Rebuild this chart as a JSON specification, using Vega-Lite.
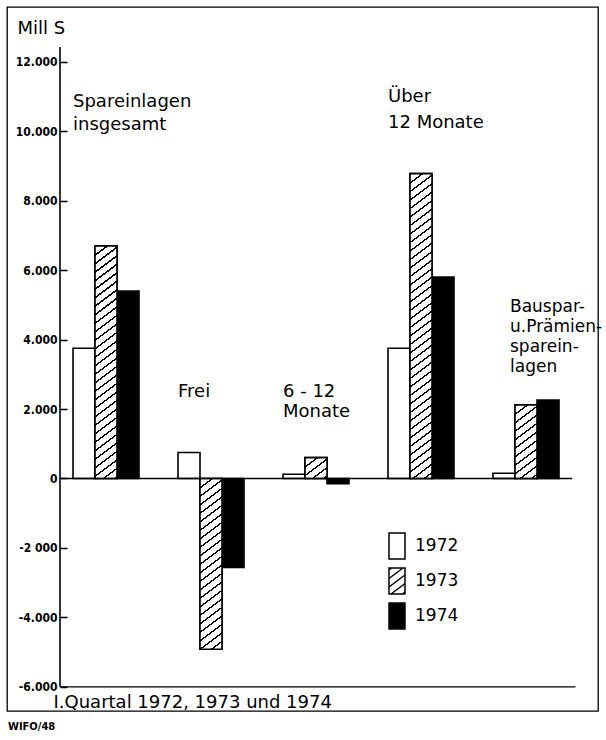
{
  "$schema": "https://vega.github.io/schema/vega-lite/v6.json",
  "width": 591,
  "height": 704,
  "autosize": "none",
  "padding": {"left": 7, "top": 7, "right": 8, "bottom": 29},
  "background": "white",
  "view": {"stroke": "black", "strokeWidth": 1.3},
  "config": {"font": "DejaVu Sans", "text": {"color": "black"}},
  "title": {"text": "WIFO/48", "orient": "bottom", "anchor": "start", "frame": "group", "offset": 19, "dx": 1, "fontSize": 11, "font": "DejaVu Sans Condensed", "fontWeight": "bold", "color": "black", "baseline": "alphabetic"},
  "datasets": {
    "bars": [
      {"group": "Spareinlagen insgesamt", "year": "1972", "value": 3750},
      {"group": "Spareinlagen insgesamt", "year": "1973", "value": 6700},
      {"group": "Spareinlagen insgesamt", "year": "1974", "value": 5400},
      {"group": "Frei", "year": "1972", "value": 750},
      {"group": "Frei", "year": "1973", "value": -4920},
      {"group": "Frei", "year": "1974", "value": -2560},
      {"group": "6 - 12 Monate", "year": "1972", "value": 120},
      {"group": "6 - 12 Monate", "year": "1973", "value": 600},
      {"group": "6 - 12 Monate", "year": "1974", "value": -150},
      {"group": "Über 12 Monate", "year": "1972", "value": 3750},
      {"group": "Über 12 Monate", "year": "1973", "value": 8780},
      {"group": "Über 12 Monate", "year": "1974", "value": 5800},
      {"group": "Bauspar- u. Prämienspareinlagen", "year": "1972", "value": 150},
      {"group": "Bauspar- u. Prämienspareinlagen", "year": "1973", "value": 2120},
      {"group": "Bauspar- u. Prämienspareinlagen", "year": "1974", "value": 2260}
    ],
    "labels": [
      {"group": "Spareinlagen insgesamt", "pos": 10700, "text": "Spareinlagen"},
      {"group": "Spareinlagen insgesamt", "pos": 10038, "text": "insgesamt"},
      {"group": "Frei", "pos": 2347, "text": "Frei"},
      {"group": "6 - 12 Monate", "pos": 2347, "text": "6 - 12"},
      {"group": "6 - 12 Monate", "pos": 1771, "text": "Monate"},
      {"group": "Über 12 Monate", "pos": 10844, "text": "Über"},
      {"group": "Über 12 Monate", "pos": 10095, "text": "12 Monate"},
      {"group": "Bauspar- u. Prämienspareinlagen", "pos": 4795, "text": "Bauspar-"},
      {"group": "Bauspar- u. Prämienspareinlagen", "pos": 4219, "text": "u.Prämien-"},
      {"group": "Bauspar- u. Prämienspareinlagen", "pos": 3643, "text": "sparein-"},
      {"group": "Bauspar- u. Prämienspareinlagen", "pos": 3067, "text": "lagen"}
    ]
  },
  "layer": [
    {
      "data": {"name": "bars"},
      "mark": {"type": "bar", "stroke": "black", "strokeWidth": 1.6},
      "encoding": {
        "x": {
          "field": "group", "type": "nominal",
          "scale": {"domain": ["Spareinlagen insgesamt", "Frei", "6 - 12 Monate", "Über 12 Monate", "Bauspar- u. Prämienspareinlagen"], "paddingInner": 0.3714, "paddingOuter": 0.5, "align": 0.6286},
          "axis": {"domain": false, "ticks": false, "labels": false, "grid": false, "title": "I.Quartal 1972, 1973 und 1974", "titleFont": "DejaVu Sans", "titleFontSize": 18, "titleFontWeight": "normal", "titleColor": "black", "titleX": 46, "titleY": -4, "titleAlign": "left", "titleAnchor": "start", "titleBaseline": "alphabetic"}
        },
        "xOffset": {"field": "year", "type": "nominal", "scale": {"domain": ["1972", "1973", "1974"], "paddingInner": 0, "paddingOuter": 0}},
        "y": {
          "field": "value", "type": "quantitative",
          "scale": {"domain": [-6697, 13580], "nice": false, "zero": false},
          "axis": {
            "offset": -53, "domain": false, "grid": false,
            "values": [-6000, -5000, -4000, -3000, -2000, -1000, 0, 1000, 2000, 3000, 4000, 5000, 6000, 7000, 8000, 9000, 10000, 11000, 12000],
            "tickSize": -7, "tickColor": "black", "tickWidth": 1.5,
            "labelPadding": 10, "labelFont": "DejaVu Sans Condensed", "labelFontWeight": "bold", "labelFontSize": 12, "labelColor": "black", "labelOverlap": false, "labelFlush": false, "labelAlign": "right", "labelBaseline": "middle",
            "labelExpr": "datum.value % 2000 !== 0 ? '' : datum.value === 0 ? '0' : datum.value === -2000 ? '-2 000' : (datum.value < 0 ? '-' : '') + replace(format(abs(datum.value), ','), ',', '.')",
            "title": "Mill S", "titleAngle": 0, "titleAlign": "left", "titleBaseline": "alphabetic", "titleX": -43, "titleY": 26, "titleFontSize": 18, "titleFont": "DejaVu Sans", "titleFontWeight": "normal", "titleColor": "black"
          }
        },
        "fill": {"condition": {"test": "datum.year === '1974'", "value": "black"}, "value": "white"}
      }
    },
    {
      "data": {"name": "bars"},
      "mark": {"type": "point", "filled": true, "opacity": 0, "strokeWidth": 1.5},
      "encoding": {
        "x": {"field": "group", "type": "nominal"},
        "y": {"field": "value", "type": "quantitative"},
        "fill": {
          "field": "year", "type": "nominal",
          "scale": {"domain": ["1972", "1973", "1974"], "range": ["white", "white", "black"]},
          "legend": {"orient": "none", "legendX": 376, "legendY": 525, "title": null, "padding": 0, "symbolSize": 676, "symbolStrokeColor": "black", "symbolStrokeWidth": 1.5, "symbolOpacity": 1, "labelFont": "DejaVu Sans", "labelFontSize": 17, "labelColor": "black", "labelOffset": 4, "rowPadding": 3}
        },
        "stroke": {
          "field": "year", "type": "nominal",
          "scale": {"domain": ["1972", "1973", "1974"], "range": ["black", "black", "black"]},
          "legend": {"orient": "none", "legendX": 376, "legendY": 525, "title": null, "padding": 0, "symbolSize": 676, "symbolStrokeColor": "black", "symbolStrokeWidth": 1.5, "symbolOpacity": 1, "labelFont": "DejaVu Sans", "labelFontSize": 17, "labelColor": "black", "labelOffset": 4, "rowPadding": 3}
        },
        "shape": {
          "field": "year", "type": "nominal",
          "scale": {"domain": ["1972", "1973", "1974"], "range": ["M-0.615,-1H0.615V1H-0.615Z", "M-0.615,-1H0.615V1H-0.615Z M-0.615,0.461L0.615,-0.461 M-0.461,1L0.615,0.193 M-0.615,-0.193L0.461,-1 M0.413,1L0.615,0.849 M-0.615,-0.849L-0.413,-1", "M-0.615,-1H0.615V1H-0.615Z"]},
          "legend": {"orient": "none", "legendX": 376, "legendY": 525, "title": null, "padding": 0, "symbolSize": 676, "symbolStrokeColor": "black", "symbolStrokeWidth": 1.5, "symbolOpacity": 1, "labelFont": "DejaVu Sans", "labelFontSize": 17, "labelColor": "black", "labelOffset": 4, "rowPadding": 3}
        }
      }
    },
    {
      "data": {"name": "bars"},
      "transform": [{"filter": "datum.year === '1973' && datum.group === 'Spareinlagen insgesamt'"}],
      "mark": {"type": "bar", "stroke": "black", "strokeWidth": 1.6, "fill": {"gradient": "linear", "x1": 0, "y1": 0, "x2": 0.10317, "y2": 1.4544, "stops": [
        {"offset":0,"color":"#fff"},{"offset":0,"color":"#000"},{"offset":0.0055,"color":"#000"},{"offset":0.0055,"color":"#fff"},
        {"offset":0.025,"color":"#fff"},{"offset":0.025,"color":"#000"},{"offset":0.0305,"color":"#000"},{"offset":0.0305,"color":"#fff"},
        {"offset":0.05,"color":"#fff"},{"offset":0.05,"color":"#000"},{"offset":0.0555,"color":"#000"},{"offset":0.0555,"color":"#fff"},
        {"offset":0.075,"color":"#fff"},{"offset":0.075,"color":"#000"},{"offset":0.0805,"color":"#000"},{"offset":0.0805,"color":"#fff"},
        {"offset":0.1,"color":"#fff"},{"offset":0.1,"color":"#000"},{"offset":0.1055,"color":"#000"},{"offset":0.1055,"color":"#fff"},
        {"offset":0.125,"color":"#fff"},{"offset":0.125,"color":"#000"},{"offset":0.1305,"color":"#000"},{"offset":0.1305,"color":"#fff"},
        {"offset":0.15,"color":"#fff"},{"offset":0.15,"color":"#000"},{"offset":0.1555,"color":"#000"},{"offset":0.1555,"color":"#fff"},
        {"offset":0.175,"color":"#fff"},{"offset":0.175,"color":"#000"},{"offset":0.1805,"color":"#000"},{"offset":0.1805,"color":"#fff"},
        {"offset":0.2,"color":"#fff"},{"offset":0.2,"color":"#000"},{"offset":0.2055,"color":"#000"},{"offset":0.2055,"color":"#fff"},
        {"offset":0.225,"color":"#fff"},{"offset":0.225,"color":"#000"},{"offset":0.2305,"color":"#000"},{"offset":0.2305,"color":"#fff"},
        {"offset":0.25,"color":"#fff"},{"offset":0.25,"color":"#000"},{"offset":0.2555,"color":"#000"},{"offset":0.2555,"color":"#fff"},
        {"offset":0.275,"color":"#fff"},{"offset":0.275,"color":"#000"},{"offset":0.2805,"color":"#000"},{"offset":0.2805,"color":"#fff"},
        {"offset":0.3,"color":"#fff"},{"offset":0.3,"color":"#000"},{"offset":0.3055,"color":"#000"},{"offset":0.3055,"color":"#fff"},
        {"offset":0.325,"color":"#fff"},{"offset":0.325,"color":"#000"},{"offset":0.3305,"color":"#000"},{"offset":0.3305,"color":"#fff"},
        {"offset":0.35,"color":"#fff"},{"offset":0.35,"color":"#000"},{"offset":0.3555,"color":"#000"},{"offset":0.3555,"color":"#fff"},
        {"offset":0.375,"color":"#fff"},{"offset":0.375,"color":"#000"},{"offset":0.3805,"color":"#000"},{"offset":0.3805,"color":"#fff"},
        {"offset":0.4,"color":"#fff"},{"offset":0.4,"color":"#000"},{"offset":0.4055,"color":"#000"},{"offset":0.4055,"color":"#fff"},
        {"offset":0.425,"color":"#fff"},{"offset":0.425,"color":"#000"},{"offset":0.4305,"color":"#000"},{"offset":0.4305,"color":"#fff"},
        {"offset":0.45,"color":"#fff"},{"offset":0.45,"color":"#000"},{"offset":0.4555,"color":"#000"},{"offset":0.4555,"color":"#fff"},
        {"offset":0.475,"color":"#fff"},{"offset":0.475,"color":"#000"},{"offset":0.4805,"color":"#000"},{"offset":0.4805,"color":"#fff"},
        {"offset":0.5,"color":"#fff"},{"offset":0.5,"color":"#000"},{"offset":0.5055,"color":"#000"},{"offset":0.5055,"color":"#fff"},
        {"offset":0.525,"color":"#fff"},{"offset":0.525,"color":"#000"},{"offset":0.5305,"color":"#000"},{"offset":0.5305,"color":"#fff"},
        {"offset":0.55,"color":"#fff"},{"offset":0.55,"color":"#000"},{"offset":0.5555,"color":"#000"},{"offset":0.5555,"color":"#fff"},
        {"offset":0.575,"color":"#fff"},{"offset":0.575,"color":"#000"},{"offset":0.5805,"color":"#000"},{"offset":0.5805,"color":"#fff"},
        {"offset":0.6,"color":"#fff"},{"offset":0.6,"color":"#000"},{"offset":0.6055,"color":"#000"},{"offset":0.6055,"color":"#fff"},
        {"offset":0.625,"color":"#fff"},{"offset":0.625,"color":"#000"},{"offset":0.6305,"color":"#000"},{"offset":0.6305,"color":"#fff"},
        {"offset":0.65,"color":"#fff"},{"offset":0.65,"color":"#000"},{"offset":0.6555,"color":"#000"},{"offset":0.6555,"color":"#fff"},
        {"offset":0.675,"color":"#fff"},{"offset":0.675,"color":"#000"},{"offset":0.6805,"color":"#000"},{"offset":0.6805,"color":"#fff"},
        {"offset":0.7,"color":"#fff"},{"offset":0.7,"color":"#000"},{"offset":0.7055,"color":"#000"},{"offset":0.7055,"color":"#fff"},
        {"offset":0.725,"color":"#fff"},{"offset":0.725,"color":"#000"},{"offset":0.7305,"color":"#000"},{"offset":0.7305,"color":"#fff"}
      ]}},
      "encoding": {
        "x": {"field": "group", "type": "nominal"},
        "xOffset": {"field": "year", "type": "nominal"},
        "y": {"field": "value", "type": "quantitative"}
      }
    },
    {
      "data": {"name": "bars"},
      "transform": [{"filter": "datum.year === '1973' && datum.group === 'Frei'"}],
      "mark": {"type": "bar", "stroke": "black", "strokeWidth": 1.6, "fill": {"gradient": "linear", "x1": 0, "y1": 0, "x2": 0.19053, "y2": 1.9722, "stops": [
        {"offset":0,"color":"#fff"},{"offset":0,"color":"#000"},{"offset":0.0055,"color":"#000"},{"offset":0.0055,"color":"#fff"},
        {"offset":0.025,"color":"#fff"},{"offset":0.025,"color":"#000"},{"offset":0.0305,"color":"#000"},{"offset":0.0305,"color":"#fff"},
        {"offset":0.05,"color":"#fff"},{"offset":0.05,"color":"#000"},{"offset":0.0555,"color":"#000"},{"offset":0.0555,"color":"#fff"},
        {"offset":0.075,"color":"#fff"},{"offset":0.075,"color":"#000"},{"offset":0.0805,"color":"#000"},{"offset":0.0805,"color":"#fff"},
        {"offset":0.1,"color":"#fff"},{"offset":0.1,"color":"#000"},{"offset":0.1055,"color":"#000"},{"offset":0.1055,"color":"#fff"},
        {"offset":0.125,"color":"#fff"},{"offset":0.125,"color":"#000"},{"offset":0.1305,"color":"#000"},{"offset":0.1305,"color":"#fff"},
        {"offset":0.15,"color":"#fff"},{"offset":0.15,"color":"#000"},{"offset":0.1555,"color":"#000"},{"offset":0.1555,"color":"#fff"},
        {"offset":0.175,"color":"#fff"},{"offset":0.175,"color":"#000"},{"offset":0.1805,"color":"#000"},{"offset":0.1805,"color":"#fff"},
        {"offset":0.2,"color":"#fff"},{"offset":0.2,"color":"#000"},{"offset":0.2055,"color":"#000"},{"offset":0.2055,"color":"#fff"},
        {"offset":0.225,"color":"#fff"},{"offset":0.225,"color":"#000"},{"offset":0.2305,"color":"#000"},{"offset":0.2305,"color":"#fff"},
        {"offset":0.25,"color":"#fff"},{"offset":0.25,"color":"#000"},{"offset":0.2555,"color":"#000"},{"offset":0.2555,"color":"#fff"},
        {"offset":0.275,"color":"#fff"},{"offset":0.275,"color":"#000"},{"offset":0.2805,"color":"#000"},{"offset":0.2805,"color":"#fff"},
        {"offset":0.3,"color":"#fff"},{"offset":0.3,"color":"#000"},{"offset":0.3055,"color":"#000"},{"offset":0.3055,"color":"#fff"},
        {"offset":0.325,"color":"#fff"},{"offset":0.325,"color":"#000"},{"offset":0.3305,"color":"#000"},{"offset":0.3305,"color":"#fff"},
        {"offset":0.35,"color":"#fff"},{"offset":0.35,"color":"#000"},{"offset":0.3555,"color":"#000"},{"offset":0.3555,"color":"#fff"},
        {"offset":0.375,"color":"#fff"},{"offset":0.375,"color":"#000"},{"offset":0.3805,"color":"#000"},{"offset":0.3805,"color":"#fff"},
        {"offset":0.4,"color":"#fff"},{"offset":0.4,"color":"#000"},{"offset":0.4055,"color":"#000"},{"offset":0.4055,"color":"#fff"},
        {"offset":0.425,"color":"#fff"},{"offset":0.425,"color":"#000"},{"offset":0.4305,"color":"#000"},{"offset":0.4305,"color":"#fff"},
        {"offset":0.45,"color":"#fff"},{"offset":0.45,"color":"#000"},{"offset":0.4555,"color":"#000"},{"offset":0.4555,"color":"#fff"},
        {"offset":0.475,"color":"#fff"},{"offset":0.475,"color":"#000"},{"offset":0.4805,"color":"#000"},{"offset":0.4805,"color":"#fff"},
        {"offset":0.5,"color":"#fff"},{"offset":0.5,"color":"#000"},{"offset":0.5055,"color":"#000"},{"offset":0.5055,"color":"#fff"},
        {"offset":0.525,"color":"#fff"},{"offset":0.525,"color":"#000"},{"offset":0.5305,"color":"#000"},{"offset":0.5305,"color":"#fff"},
        {"offset":0.55,"color":"#fff"},{"offset":0.55,"color":"#000"},{"offset":0.5555,"color":"#000"},{"offset":0.5555,"color":"#fff"}
      ]}},
      "encoding": {
        "x": {"field": "group", "type": "nominal"},
        "xOffset": {"field": "year", "type": "nominal"},
        "y": {"field": "value", "type": "quantitative"}
      }
    },
    {
      "data": {"name": "bars"},
      "transform": [{"filter": "datum.year === '1973' && datum.group === '6 - 12 Monate'"}],
      "mark": {"type": "bar", "stroke": "black", "strokeWidth": 1.6, "fill": {"gradient": "linear", "x1": 0, "y1": 0, "x2": 7.959, "y2": 10.033, "stops": [
        {"offset":0,"color":"#fff"},{"offset":0,"color":"#000"},{"offset":0.0055,"color":"#000"},{"offset":0.0055,"color":"#fff"},
        {"offset":0.025,"color":"#fff"},{"offset":0.025,"color":"#000"},{"offset":0.0305,"color":"#000"},{"offset":0.0305,"color":"#fff"},
        {"offset":0.05,"color":"#fff"},{"offset":0.05,"color":"#000"},{"offset":0.0555,"color":"#000"},{"offset":0.0555,"color":"#fff"},
        {"offset":0.075,"color":"#fff"},{"offset":0.075,"color":"#000"},{"offset":0.0805,"color":"#000"},{"offset":0.0805,"color":"#fff"},
        {"offset":0.1,"color":"#fff"},{"offset":0.1,"color":"#000"},{"offset":0.1055,"color":"#000"},{"offset":0.1055,"color":"#fff"}
      ]}},
      "encoding": {
        "x": {"field": "group", "type": "nominal"},
        "xOffset": {"field": "year", "type": "nominal"},
        "y": {"field": "value", "type": "quantitative"}
      }
    },
    {
      "data": {"name": "bars"},
      "transform": [{"filter": "datum.year === '1973' && datum.group === 'Über 12 Monate'"}],
      "mark": {"type": "bar", "stroke": "black", "strokeWidth": 1.6, "fill": {"gradient": "linear", "x1": 0, "y1": 0, "x2": 0.060209, "y2": 1.11223, "stops": [
        {"offset":0,"color":"#fff"},{"offset":0,"color":"#000"},{"offset":0.0055,"color":"#000"},{"offset":0.0055,"color":"#fff"},
        {"offset":0.025,"color":"#fff"},{"offset":0.025,"color":"#000"},{"offset":0.0305,"color":"#000"},{"offset":0.0305,"color":"#fff"},
        {"offset":0.05,"color":"#fff"},{"offset":0.05,"color":"#000"},{"offset":0.0555,"color":"#000"},{"offset":0.0555,"color":"#fff"},
        {"offset":0.075,"color":"#fff"},{"offset":0.075,"color":"#000"},{"offset":0.0805,"color":"#000"},{"offset":0.0805,"color":"#fff"},
        {"offset":0.1,"color":"#fff"},{"offset":0.1,"color":"#000"},{"offset":0.1055,"color":"#000"},{"offset":0.1055,"color":"#fff"},
        {"offset":0.125,"color":"#fff"},{"offset":0.125,"color":"#000"},{"offset":0.1305,"color":"#000"},{"offset":0.1305,"color":"#fff"},
        {"offset":0.15,"color":"#fff"},{"offset":0.15,"color":"#000"},{"offset":0.1555,"color":"#000"},{"offset":0.1555,"color":"#fff"},
        {"offset":0.175,"color":"#fff"},{"offset":0.175,"color":"#000"},{"offset":0.1805,"color":"#000"},{"offset":0.1805,"color":"#fff"},
        {"offset":0.2,"color":"#fff"},{"offset":0.2,"color":"#000"},{"offset":0.2055,"color":"#000"},{"offset":0.2055,"color":"#fff"},
        {"offset":0.225,"color":"#fff"},{"offset":0.225,"color":"#000"},{"offset":0.2305,"color":"#000"},{"offset":0.2305,"color":"#fff"},
        {"offset":0.25,"color":"#fff"},{"offset":0.25,"color":"#000"},{"offset":0.2555,"color":"#000"},{"offset":0.2555,"color":"#fff"},
        {"offset":0.275,"color":"#fff"},{"offset":0.275,"color":"#000"},{"offset":0.2805,"color":"#000"},{"offset":0.2805,"color":"#fff"},
        {"offset":0.3,"color":"#fff"},{"offset":0.3,"color":"#000"},{"offset":0.3055,"color":"#000"},{"offset":0.3055,"color":"#fff"},
        {"offset":0.325,"color":"#fff"},{"offset":0.325,"color":"#000"},{"offset":0.3305,"color":"#000"},{"offset":0.3305,"color":"#fff"},
        {"offset":0.35,"color":"#fff"},{"offset":0.35,"color":"#000"},{"offset":0.3555,"color":"#000"},{"offset":0.3555,"color":"#fff"},
        {"offset":0.375,"color":"#fff"},{"offset":0.375,"color":"#000"},{"offset":0.3805,"color":"#000"},{"offset":0.3805,"color":"#fff"},
        {"offset":0.4,"color":"#fff"},{"offset":0.4,"color":"#000"},{"offset":0.4055,"color":"#000"},{"offset":0.4055,"color":"#fff"},
        {"offset":0.425,"color":"#fff"},{"offset":0.425,"color":"#000"},{"offset":0.4305,"color":"#000"},{"offset":0.4305,"color":"#fff"},
        {"offset":0.45,"color":"#fff"},{"offset":0.45,"color":"#000"},{"offset":0.4555,"color":"#000"},{"offset":0.4555,"color":"#fff"},
        {"offset":0.475,"color":"#fff"},{"offset":0.475,"color":"#000"},{"offset":0.4805,"color":"#000"},{"offset":0.4805,"color":"#fff"},
        {"offset":0.5,"color":"#fff"},{"offset":0.5,"color":"#000"},{"offset":0.5055,"color":"#000"},{"offset":0.5055,"color":"#fff"},
        {"offset":0.525,"color":"#fff"},{"offset":0.525,"color":"#000"},{"offset":0.5305,"color":"#000"},{"offset":0.5305,"color":"#fff"},
        {"offset":0.55,"color":"#fff"},{"offset":0.55,"color":"#000"},{"offset":0.5555,"color":"#000"},{"offset":0.5555,"color":"#fff"},
        {"offset":0.575,"color":"#fff"},{"offset":0.575,"color":"#000"},{"offset":0.5805,"color":"#000"},{"offset":0.5805,"color":"#fff"},
        {"offset":0.6,"color":"#fff"},{"offset":0.6,"color":"#000"},{"offset":0.6055,"color":"#000"},{"offset":0.6055,"color":"#fff"},
        {"offset":0.625,"color":"#fff"},{"offset":0.625,"color":"#000"},{"offset":0.6305,"color":"#000"},{"offset":0.6305,"color":"#fff"},
        {"offset":0.65,"color":"#fff"},{"offset":0.65,"color":"#000"},{"offset":0.6555,"color":"#000"},{"offset":0.6555,"color":"#fff"},
        {"offset":0.675,"color":"#fff"},{"offset":0.675,"color":"#000"},{"offset":0.6805,"color":"#000"},{"offset":0.6805,"color":"#fff"},
        {"offset":0.7,"color":"#fff"},{"offset":0.7,"color":"#000"},{"offset":0.7055,"color":"#000"},{"offset":0.7055,"color":"#fff"},
        {"offset":0.725,"color":"#fff"},{"offset":0.725,"color":"#000"},{"offset":0.7305,"color":"#000"},{"offset":0.7305,"color":"#fff"},
        {"offset":0.75,"color":"#fff"},{"offset":0.75,"color":"#000"},{"offset":0.7555,"color":"#000"},{"offset":0.7555,"color":"#fff"},
        {"offset":0.775,"color":"#fff"},{"offset":0.775,"color":"#000"},{"offset":0.7805,"color":"#000"},{"offset":0.7805,"color":"#fff"},
        {"offset":0.8,"color":"#fff"},{"offset":0.8,"color":"#000"},{"offset":0.8055,"color":"#000"},{"offset":0.8055,"color":"#fff"},
        {"offset":0.825,"color":"#fff"},{"offset":0.825,"color":"#000"},{"offset":0.8305,"color":"#000"},{"offset":0.8305,"color":"#fff"},
        {"offset":0.85,"color":"#fff"},{"offset":0.85,"color":"#000"},{"offset":0.8555,"color":"#000"},{"offset":0.8555,"color":"#fff"},
        {"offset":0.875,"color":"#fff"},{"offset":0.875,"color":"#000"},{"offset":0.8805,"color":"#000"},{"offset":0.8805,"color":"#fff"},
        {"offset":0.9,"color":"#fff"},{"offset":0.9,"color":"#000"},{"offset":0.9055,"color":"#000"},{"offset":0.9055,"color":"#fff"},
        {"offset":0.925,"color":"#fff"},{"offset":0.925,"color":"#000"},{"offset":0.9305,"color":"#000"},{"offset":0.9305,"color":"#fff"}
      ]}},
      "encoding": {
        "x": {"field": "group", "type": "nominal"},
        "xOffset": {"field": "year", "type": "nominal"},
        "y": {"field": "value", "type": "quantitative"}
      }
    },
    {
      "data": {"name": "bars"},
      "transform": [{"filter": "datum.year === '1973' && datum.group === 'Bauspar- u. Prämienspareinlagen'"}],
      "mark": {"type": "bar", "stroke": "black", "strokeWidth": 1.6, "fill": {"gradient": "linear", "x1": 0, "y1": 0, "x2": 0.98611, "y2": 4.3987, "stops": [
        {"offset":0,"color":"#fff"},{"offset":0,"color":"#000"},{"offset":0.0055,"color":"#000"},{"offset":0.0055,"color":"#fff"},
        {"offset":0.025,"color":"#fff"},{"offset":0.025,"color":"#000"},{"offset":0.0305,"color":"#000"},{"offset":0.0305,"color":"#fff"},
        {"offset":0.05,"color":"#fff"},{"offset":0.05,"color":"#000"},{"offset":0.0555,"color":"#000"},{"offset":0.0555,"color":"#fff"},
        {"offset":0.075,"color":"#fff"},{"offset":0.075,"color":"#000"},{"offset":0.0805,"color":"#000"},{"offset":0.0805,"color":"#fff"},
        {"offset":0.1,"color":"#fff"},{"offset":0.1,"color":"#000"},{"offset":0.1055,"color":"#000"},{"offset":0.1055,"color":"#fff"},
        {"offset":0.125,"color":"#fff"},{"offset":0.125,"color":"#000"},{"offset":0.1305,"color":"#000"},{"offset":0.1305,"color":"#fff"},
        {"offset":0.15,"color":"#fff"},{"offset":0.15,"color":"#000"},{"offset":0.1555,"color":"#000"},{"offset":0.1555,"color":"#fff"},
        {"offset":0.175,"color":"#fff"},{"offset":0.175,"color":"#000"},{"offset":0.1805,"color":"#000"},{"offset":0.1805,"color":"#fff"},
        {"offset":0.2,"color":"#fff"},{"offset":0.2,"color":"#000"},{"offset":0.2055,"color":"#000"},{"offset":0.2055,"color":"#fff"},
        {"offset":0.225,"color":"#fff"},{"offset":0.225,"color":"#000"},{"offset":0.2305,"color":"#000"},{"offset":0.2305,"color":"#fff"},
        {"offset":0.25,"color":"#fff"},{"offset":0.25,"color":"#000"},{"offset":0.2555,"color":"#000"},{"offset":0.2555,"color":"#fff"}
      ]}},
      "encoding": {
        "x": {"field": "group", "type": "nominal"},
        "xOffset": {"field": "year", "type": "nominal"},
        "y": {"field": "value", "type": "quantitative"}
      }
    },
    {
      "data": {"values": [{}]},
      "mark": {"type": "rule", "color": "black", "strokeWidth": 1.6},
      "encoding": {
        "x": {"datum": "Spareinlagen insgesamt", "type": "nominal", "bandPosition": -0.197},
        "y": {"datum": -6000, "type": "quantitative"},
        "y2": {"datum": 12428}
      }
    },
    {
      "data": {"values": [{}]},
      "mark": {"type": "rule", "color": "black", "strokeWidth": 1.3},
      "encoding": {
        "x": {"datum": "Spareinlagen insgesamt", "type": "nominal", "bandPosition": -0.197},
        "x2": {"datum": "Bauspar- u. Prämienspareinlagen", "bandPosition": 1.2},
        "y": {"datum": 0, "type": "quantitative"}
      }
    },
    {
      "data": {"values": [{}]},
      "mark": {"type": "rule", "color": "black", "strokeWidth": 1.3},
      "encoding": {
        "x": {"datum": "Spareinlagen insgesamt", "type": "nominal", "bandPosition": -0.197},
        "x2": {"datum": "Bauspar- u. Prämienspareinlagen", "bandPosition": 1.25},
        "y": {"datum": -6000, "type": "quantitative"}
      }
    },
    {
      "data": {"name": "labels"},
      "transform": [{"filter": "datum.group !== 'Bauspar- u. Prämienspareinlagen'"}],
      "mark": {"type": "text", "align": "left", "baseline": "alphabetic", "font": "DejaVu Sans", "fontSize": 18, "color": "black"},
      "encoding": {
        "x": {"field": "group", "type": "nominal", "bandPosition": 0},
        "y": {"field": "pos", "type": "quantitative"},
        "text": {"field": "text"}
      }
    },
    {
      "data": {"name": "labels"},
      "transform": [{"filter": "datum.group === 'Bauspar- u. Prämienspareinlagen'"}],
      "mark": {"type": "text", "align": "left", "baseline": "alphabetic", "font": "DejaVu Sans", "fontSize": 17, "color": "black", "dx": 17},
      "encoding": {
        "x": {"field": "group", "type": "nominal", "bandPosition": 0},
        "y": {"field": "pos", "type": "quantitative"},
        "text": {"field": "text"}
      }
    }
  ]
}
